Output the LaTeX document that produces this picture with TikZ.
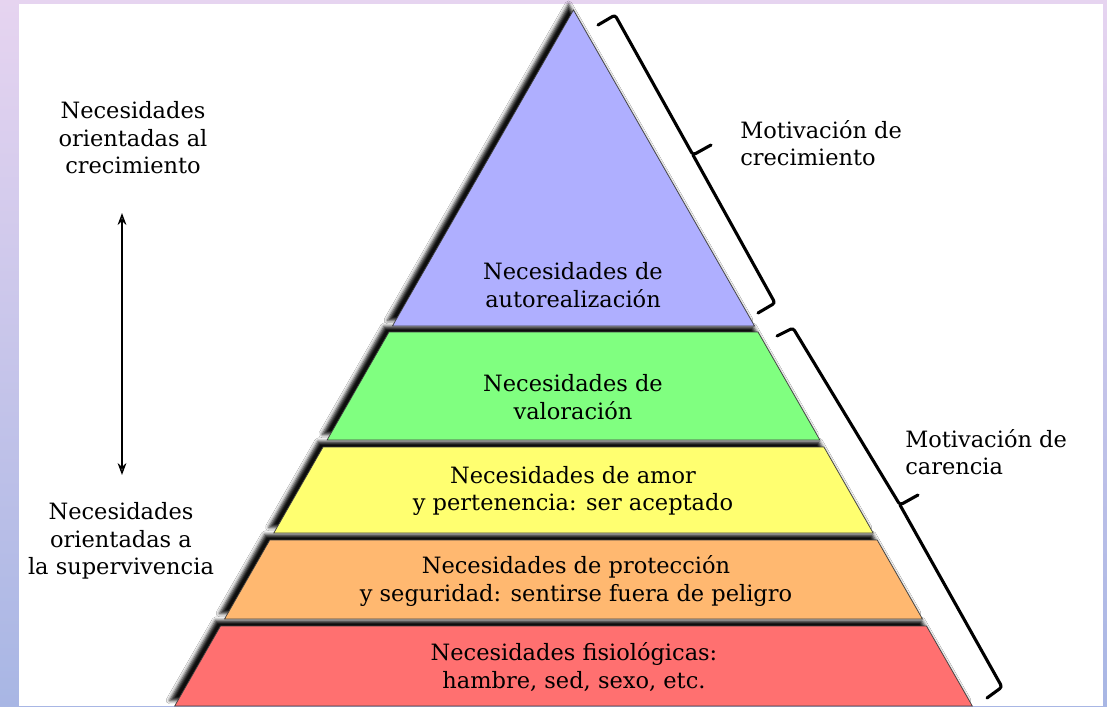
\documentclass[tikz,border=0pt]{standalone}
\usepackage{fontspec}
\setmainfont{DejaVu Serif}
\usetikzlibrary{arrows.meta, calc, shadows.blur}

\definecolor{frametop}{RGB}{230,212,240}
\definecolor{framebot}{RGB}{168,182,228}
\definecolor{selfcol}{RGB}{175,175,255}
\definecolor{esteemcol}{RGB}{128,255,128}
\definecolor{lovecol}{RGB}{255,255,112}
\definecolor{safecol}{RGB}{255,184,112}
\definecolor{bodycol}{RGB}{255,112,112}

\tikzset{
    tierfill/.style={draw=black!75, line width=0.5pt}, % one band of the pyramid
    tiershadow/.style={blur shadow={shadow xshift=-3.5pt, shadow yshift=4pt,
        shadow blur radius=2.5pt, shadow opacity=95}},
    tier/.style={align=center, inner sep=0pt, font=\fontsize{16}{19.5}\selectfont},
    note/.style={inner sep=0pt, font=\fontsize{16}{19.5}\selectfont},
    bracket/.style={line width=2.2pt, rounded corners=2pt, line cap=round},
    twoway/.style={line width=1pt, {Stealth[length=3mm,width=2.2mm]}-{Stealth[length=3mm,width=2.2mm]}}
}

\begin{document}
\begin{tikzpicture}[x=0.025cm, y=-0.025cm]
    \useasboundingbox (0,0) rectangle (1107,706);

    % frame
    \shade[top color=frametop, bottom color=framebot] (0,0) rectangle (1107,706);
    \fill[white] (19,4) rectangle (1103,706);

    % shadows first, then the bands on top
    \foreach \ya/\yb in {10/326, 332/440, 447/533, 540/619, 626/706} {
        \pgfmathsetmacro\wa{0.573*(\ya-10)}
        \pgfmathsetmacro\wb{0.573*(\yb-10)}
        \path[tiershadow] (573.5-\wa,\ya) -- (573.5+\wa,\ya) -- (573.5+\wb,\yb) -- (573.5-\wb,\yb) -- cycle;
    }
    \foreach \ya/\yb/\col in {10/326/selfcol, 332/440/esteemcol, 447/533/lovecol, 540/619/safecol, 626/706/bodycol} {
        \pgfmathsetmacro\wa{0.573*(\ya-10)}
        \pgfmathsetmacro\wb{0.573*(\yb-10)}
        \draw[tierfill, fill=\col] (573.5-\wa,\ya) -- (573.5+\wa,\ya) -- (573.5+\wb,\yb) -- (573.5-\wb,\yb) -- cycle;
    }

    % band texts
    \node[tier] (self) at (573,285) {Necesidades de\\autorealización};
    \node[tier] (esteem) at (573,397) {Necesidades de\\valoración};
    \node[tier] (love) at (573,491) {Necesidades de amor\\y pertenencia: ser aceptado};
    \node[tier] (safety) at (576,581) {Necesidades de protección\\y seguridad: sentirse fuera de peligro};
    \node[tier] (body) at (574,667) {Necesidades fisiológicas:\\hambre, sed, sexo, etc.};

    % left side
    \node[tier] (grow) at (133,138) {Necesidades\\orientadas al\\crecimiento};
    \node[tier] (survive) at (121,541) {Necesidades\\orientadas a\\la supervivencia};
    \coordinate (uptip) at (122,213);
    \coordinate (downtip) at (122,475);
    \draw[twoway] (downtip) -- (uptip);

    % right side
    \node[note, align=left, anchor=west] (mgrow) at (740,143) {Motivación de\\crecimiento};
    \node[note, align=left, anchor=west] (mlack) at (905,452) {Motivación de\\carencia};

    % brackets
    \draw[bracket] (598,25) -- (615,15) -- (693,155) -- (711,145);
    \draw[bracket] (693,155) -- (775,303) -- (758,313);
    \draw[bracket] (777,336) -- (793,328) -- (900,505) -- (918,495);
    \draw[bracket] (900,505) -- (1002,687) -- (987,698);
\end{tikzpicture}
\end{document}
